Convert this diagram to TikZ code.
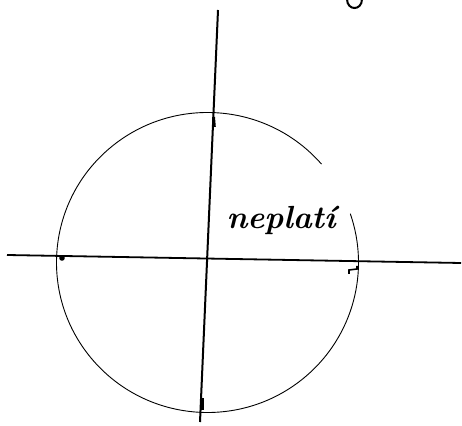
\documentclass[tikz,border=0pt]{standalone}
\begin{document}
\begin{tikzpicture}[x=1pt, y=1pt]
				\useasboundingbox (0,0) rectangle (462,425);
				\coordinate (O) at (207.5,162.5);
				\coordinate (ytop) at (218,415);
				\coordinate (ybot) at (200,3);
				\coordinate (xleft) at (7,170);
				\coordinate (xright) at (461,162);
				\draw[line width=2pt] (ybot) -- (ytop);
				\draw[line width=1.8pt] (xleft) -- (xright);
				\draw[line width=0.9pt] ([shift={(41:151 and 150)}]O) arc[start angle=41, end angle=379, x radius=151, y radius=150];
				\draw[line width=3pt] (213.5,308) -- (214.3,298);
				\draw[line width=3pt] (202,27) -- (202,15);
				\draw[line width=1.6pt] (349,151) -- (349,155) -- (357,156) -- (357,159);
				\fill (62,167) circle (2.8);
				\node[font=\fontsize{32}{38}\selectfont\bfseries\itshape] (label) at (281,205) {neplatí};
				\draw[line width=2pt] (347,426) .. controls (347,414) and (362,414) .. (362,426);
			\end{tikzpicture}
\end{document}
